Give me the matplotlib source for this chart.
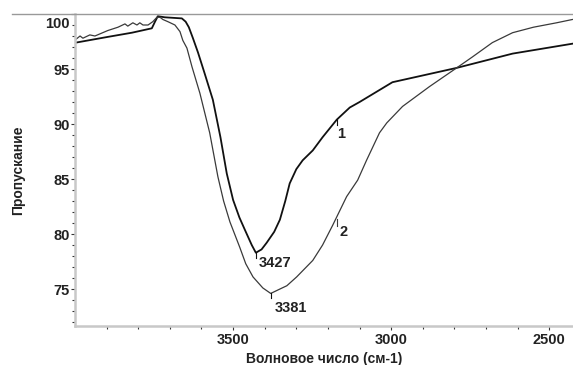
import numpy as np
import matplotlib
matplotlib.use("Agg")
import matplotlib.pyplot as plt
from matplotlib.lines import Line2D
from matplotlib.transforms import ScaledTranslation

plt.rcParams['font.family'] = ['Liberation Sans', 'DejaVu Sans']
plt.rcParams['font.weight'] = 'bold'

# curve 1 (black)
wn1 = [3997, 3900, 3820, 3757, 3747, 3738, 3716, 3662, 3650, 3640, 3627, 3611, 3590,
       3564, 3540, 3520, 3500, 3480, 3463, 3441, 3428, 3410, 3394, 3370, 3352,
       3335, 3321, 3300, 3280, 3248, 3217, 3172, 3131, 3100, 2996, 2793, 2616, 2427]
t1 = [97.4, 97.9, 98.3, 98.7, 99.3, 99.8, 99.7, 99.6, 99.3, 98.8, 97.8, 96.5, 94.6,
      92.2, 88.8, 85.5, 83.1, 81.5, 80.4, 79.0, 78.3, 78.6, 79.2, 80.2, 81.3,
      83.0, 84.6, 85.9, 86.7, 87.6, 88.8, 90.4, 91.5, 92.0, 93.8, 95.1, 96.4, 97.3]

# curve 2 (grey)
wn2 = [3997, 3984, 3975, 3953, 3937, 3896, 3864, 3842, 3833, 3817, 3804, 3795, 3785,
       3769, 3754, 3741, 3731, 3722, 3706, 3684, 3668, 3659, 3646, 3630, 3605,
       3574, 3548, 3530, 3510, 3479, 3460, 3437, 3406, 3381, 3352, 3330, 3299,
       3248, 3217, 3185, 3141, 3106, 3078, 3037, 3014, 2964, 2879, 2793, 2743,
       2680, 2616, 2550, 2477, 2427]
t2 = [97.7, 98.0, 97.8, 98.1, 98.0, 98.5, 98.8, 99.1, 98.9, 99.2, 99.0, 99.2, 99.0,
      99.0, 99.3, 99.7, 99.7, 99.5, 99.3, 99.0, 98.4, 97.6, 96.9, 95.2, 92.8,
      89.2, 85.2, 83.0, 81.1, 78.8, 77.3, 76.1, 75.1, 74.6, 75.0, 75.3, 76.1,
      77.6, 79.0, 80.8, 83.4, 84.9, 86.7, 89.2, 90.1, 91.6, 93.4, 95.1, 96.1,
      97.4, 98.3, 98.8, 99.2, 99.5]

peak_labels = ['3427', '3381']
peak_wn = [3428, 3381]
peak_t = [78.3, 74.6]

fig = plt.figure(figsize=(5.73, 3.65), dpi=100)
ax = fig.add_axes([75 / 573, 39 / 365, 498 / 573, 312 / 365])

ax.plot(wn1, t1, color='#111111', lw=1.3)
ax.plot(wn2, t2, color='#3a3a3a', lw=0.9)

ax.set_xlim(4000, 2425)
ax.set_ylim(71.64, 100.0)

# markers at minima and labels
for w, t in zip(peak_wn, peak_t):
    ax.plot([w, w], [t, t - 0.45], color='#111111', lw=0.8)
ax.text(3368, 77.4, peak_labels[0], ha='center', va='center', fontsize=10.5, fontweight='bold', color='#222222')
ax.text(3317, 73.3, peak_labels[1], ha='center', va='center', fontsize=10.5, fontweight='bold', color='#222222')

# curve number labels
ax.plot([3172, 3172], [90.5, 89.9], color='#111111', lw=0.8)
ax.text(3158, 89.1, '1', ha='center', va='center', fontsize=10.5, fontweight='bold', color='#222222')
ax.plot([3172, 3172], [81.4, 80.7], color='#3a3a3a', lw=0.8)
ax.text(3152, 80.2, '2', ha='center', va='center', fontsize=10.5, fontweight='bold', color='#222222')

ax.set_xticks([3500, 3000, 2500])
ax.set_xticks(np.arange(3900, 2400, -100), minor=True)
ax.set_yticks([75, 80, 85, 90, 95, 100])
ax.set_yticks(np.arange(72, 100, 1), minor=True)

for s in ['top', 'right']:
    ax.spines[s].set_visible(False)
for s in ['left', 'bottom']:
    ax.spines[s].set_color('#c8c8c8')
    ax.spines[s].set_linewidth(1.8)

ax.tick_params(which='major', length=3, width=0.8, color='#333333', labelsize=10.5,
               labelcolor='#222222', pad=1)
ax.tick_params(which='minor', length=2, width=0.8, color='#333333')
for lbl in ax.get_yticklabels():
    lbl.set_fontweight('bold')
    if lbl.get_text() == '100':
        lbl.set_transform(lbl.get_transform() + ScaledTranslation(0, -0.08, fig.dpi_scale_trans))
for lbl in ax.get_xticklabels():
    lbl.set_fontweight('bold')
ax.tick_params(axis='x', pad=2)

ax.set_xlabel('Волновое число (см-1)', fontsize=10, fontweight='bold', color='#222222')
ax.xaxis.set_label_coords(0.5, -0.083)
ax.set_ylabel('Пропускание', fontsize=10, fontweight='bold', color='#222222')
ax.yaxis.set_label_coords(-0.10, 0.5)

# grey line at the top of the frame
fig.add_artist(Line2D([12 / 573, 1.0], [351 / 365, 351 / 365], color='#999999', lw=1.0))

fig.savefig('out.png', dpi=100)
